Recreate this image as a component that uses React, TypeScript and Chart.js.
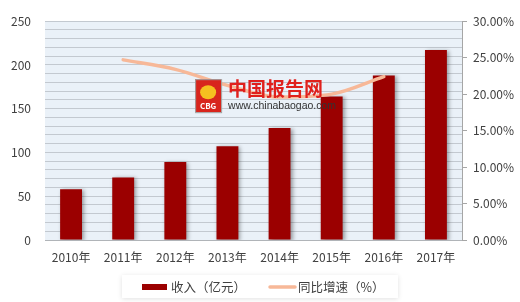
import React, { useEffect, useRef } from "react";
import { Chart, registerables } from "chart.js";
Chart.register(...registerables);

const categories = ["2010年", "2011年", "2012年", "2013年", "2014年", "2015年", "2016年", "2017年"];
const revenue = [58, 71.5, 89, 107, 128, 164, 188, 217];
const growth = [null, 24.7, 23.4, 21.2, 19.6, 20.0, 22.4, null];
const barLabel = "收入（亿元）";
const lineLabel = "同比增速（%）";
const barColor = "#9b0000";
const lineColor = "#f7b898";
const FONT = "'Noto Sans CJK SC', 'Noto Sans', sans-serif";

const bgPlugin = {
  id: "bg",
  beforeDraw(chart: any) {
    const { ctx, chartArea: a } = chart;
    ctx.save();
    ctx.fillStyle = "#eaf1f8";
    ctx.fillRect(a.left, a.top, a.right - a.left, a.bottom - a.top);
    ctx.restore();
  },
};

const shadowPlugin = {
  id: "barShadow",
  beforeDatasetDraw(chart: any, args: any) {
    if (args.index !== 0) return;
    const ctx = chart.ctx;
    ctx.save();
    ctx.shadowColor = "rgba(0,0,0,0.35)";
    ctx.shadowBlur = 4;
    ctx.shadowOffsetX = 2;
    ctx.shadowOffsetY = 1;
  },
  afterDatasetDraw(chart: any, args: any) {
    if (args.index !== 0) return;
    chart.ctx.restore();
  },
};

const watermarkPlugin = {
  id: "watermark",
  afterDatasetsDraw(chart: any) {
    const { ctx, chartArea: a } = chart;
    const w = a.right - a.left;
    const h = a.bottom - a.top;
    const x0 = a.left + w * 0.36;
    const y0 = a.top + h * 0.265;
    ctx.save();
    ctx.fillStyle = "#d8251d";
    ctx.strokeStyle = "#a0a0a0";
    ctx.lineWidth = 1;
    ctx.fillRect(x0, y0, 26, 33);
    ctx.strokeRect(x0 + 0.5, y0 + 0.5, 26, 33);
    ctx.fillStyle = "#f5c020";
    ctx.beginPath();
    ctx.ellipse(x0 + 13, y0 + 13, 8, 7, 0, 0, Math.PI * 2);
    ctx.fill();
    ctx.fillStyle = "#ffffff";
    ctx.font = `bold 8px ${FONT}`;
    ctx.textAlign = "center";
    ctx.textBaseline = "middle";
    ctx.fillText("CBG", x0 + 13, y0 + 27);
    ctx.textAlign = "left";
    ctx.fillStyle = "#e0201c";
    ctx.font = `bold 19px ${FONT}`;
    ctx.fillText("中国报告网", x0 + 33, y0 + 10);
    ctx.fillStyle = "#333333";
    ctx.font = `10.5px 'Liberation Sans', Arial, sans-serif`;
    ctx.fillText("www.chinabaogao.com", x0 + 33, y0 + 27);
    ctx.restore();
  },
};

const legendPlugin = {
  id: "customLegend",
  afterDraw(chart: any) {
    const { ctx } = chart;
    const cx = chart.width / 2;
    const boxW = 276;
    const boxH = 23;
    const bx = cx - boxW / 2;
    const by = 275;
    ctx.save();
    ctx.shadowColor = "rgba(0,0,0,0.12)";
    ctx.shadowBlur = 5;
    ctx.shadowOffsetY = 1;
    ctx.fillStyle = "#ffffff";
    ctx.fillRect(bx, by, boxW, boxH);
    ctx.restore();
    ctx.save();
    const my = by + boxH / 2 + 0.5;
    ctx.fillStyle = barColor;
    ctx.fillRect(bx + 20, my - 3, 25, 6);
    ctx.fillStyle = "#404040";
    ctx.font = `12.5px ${FONT}`;
    ctx.textBaseline = "middle";
    ctx.fillText(barLabel, bx + 49, my);
    ctx.strokeStyle = lineColor;
    ctx.lineWidth = 3.5;
    ctx.lineCap = "round";
    ctx.beginPath();
    ctx.moveTo(bx + 148, my);
    ctx.lineTo(bx + 173, my);
    ctx.stroke();
    ctx.fillText(lineLabel, bx + 176, my);
    ctx.restore();
  },
};

export default function App() {
  const ref = useRef<HTMLCanvasElement | null>(null);
  useEffect(() => {
    if (!ref.current) return;
    const chart = new Chart(ref.current, {
      type: "bar",
      data: {
        labels: categories,
        datasets: [
          {
            type: "bar",
            label: barLabel,
            data: revenue,
            backgroundColor: barColor,
            yAxisID: "y",
            categoryPercentage: 1,
            barPercentage: 0.42,
            order: 2,
          },
          {
            type: "line",
            label: lineLabel,
            data: growth as any,
            borderColor: lineColor,
            backgroundColor: lineColor,
            borderWidth: 3.5,
            pointRadius: 0,
            tension: 0.4,
            cubicInterpolationMode: "monotone",
            yAxisID: "y1",
            order: 1,
            borderCapStyle: "round",
          } as any,
        ],
      },
      options: {
        responsive: false,
        animation: false,
        layout: { padding: { top: 12, left: 0, right: 0, bottom: 0 } },
        plugins: { legend: { display: false }, tooltip: { enabled: false } },
        scales: {
          x: {
            offset: true,
            grid: { display: false, drawOnChartArea: false, drawTicks: false },
            border: { display: true, color: "#b0b4b8" },
            ticks: { color: "#404040", font: { family: FONT, size: 12 }, padding: 10, maxRotation: 0 },
            afterFit(s: any) { s.height = 62; },
          },
          y: {
            position: "left",
            min: 0,
            max: 250,
            ticks: {
              stepSize: 10,
              autoSkip: false,
              color: "#404040",
              font: { family: FONT, size: 12 },
              padding: 14,
              callback: (v: any) => (Number(v) % 50 === 0 ? String(v) : ""),
            },
            grid: { color: "#c3c9d0", lineWidth: 1, drawTicks: false },
            border: { display: false },
            afterFit(s: any) { s.width = 45; },
          },
          y1: {
            position: "right",
            min: 0,
            max: 30,
            ticks: {
              stepSize: 5,
              color: "#404040",
              font: { family: FONT, size: 12 },
              padding: 6,
              callback: (v: any) => Number(v).toFixed(2) + "%",
            },
            grid: { drawOnChartArea: false, drawTicks: true, tickLength: 5, color: "#a6a6a6" },
            border: { display: true, color: "#a6a6a6" },
            afterFit(s: any) { s.width = 58; },
          },
        },
      },
      plugins: [bgPlugin, shadowPlugin, watermarkPlugin, legendPlugin],
    });
    return () => chart.destroy();
  }, []);
  return (
    <div style={{ position: "fixed", left: 0, top: 0, width: 520, height: 302, background: "#ffffff" }}>
      <canvas ref={ref} width={520} height={302} style={{ width: 520, height: 302 }} />
    </div>
  );
}
